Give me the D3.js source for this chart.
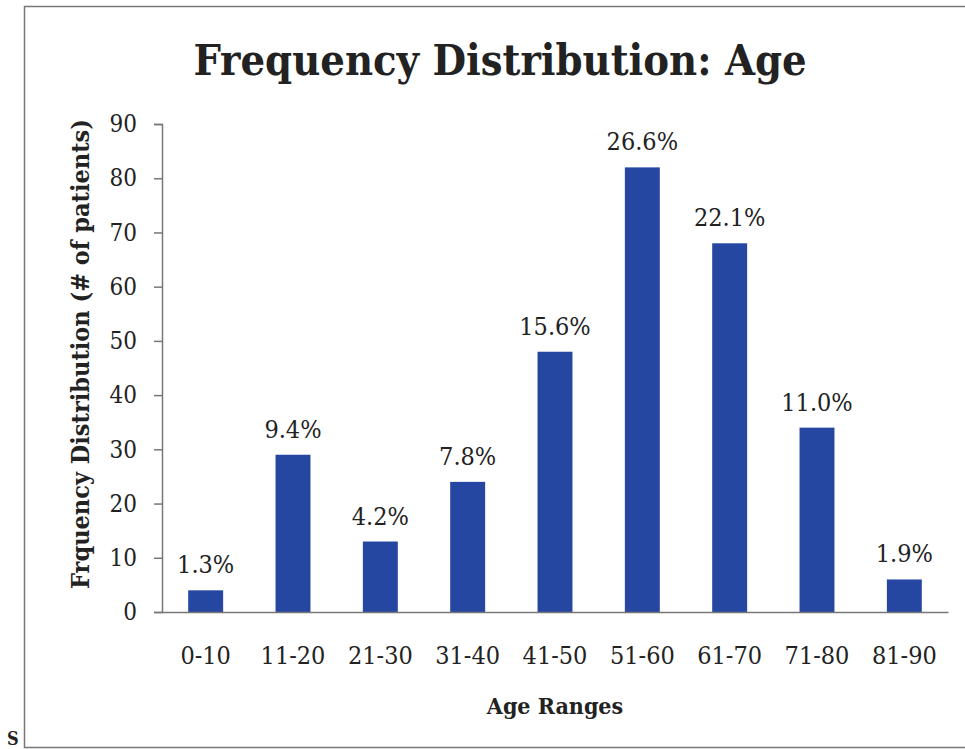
<!DOCTYPE html>
<html>
<head>
<meta charset="utf-8">
<script src="https://cdn.jsdelivr.net/npm/d3@7"></script>
<style>
  html, body { margin: 0; padding: 0; background: #fff; }
  svg { display: block; }
  text { font-family: "DejaVu Serif Condensed", "DejaVu Serif", serif; fill: #222; }
</style>
</head>
<body>
<svg id="chart" width="965" height="749"></svg>
<script>
const categories = ["0-10", "11-20", "21-30", "31-40", "41-50", "51-60", "61-70", "71-80", "81-90"];
const patients = [4, 29, 13, 24, 48, 82, 68, 34, 6];
const percentLabels = ["1.3%", "9.4%", "4.2%", "7.8%", "15.6%", "26.6%", "22.1%", "11.0%", "1.9%"];
const yTicks = [0, 10, 20, 30, 40, 50, 60, 70, 80, 90];
const titleText = "Frequency Distribution: Age";
const yLabel = "Frquency Distribution (# of patients)";
const xLabel = "Age Ranges";

const svg = d3.select("#chart");
const W = 965, H = 749;
const margin = { left: 162, right: 17, top: 124, bottom: 137 };
const plotW = W - margin.left - margin.right;
const plotH = H - margin.top - margin.bottom;
const fontStack = "\"DejaVu Serif Condensed\", \"DejaVu Serif\", serif";

// outer frame
svg.append("rect")
  .attr("x", 24.5).attr("y", 6.5)
  .attr("width", 960).attr("height", 741)
  .attr("fill", "none").attr("stroke", "#777").attr("stroke-width", 1.5);

svg.append("text")
  .attr("x", 7).attr("y", 745)
  .attr("font-size", 18).attr("font-weight", "bold")
  .text("S");

const g = svg.append("g").attr("transform", `translate(${margin.left},${margin.top})`);

const x = d3.scaleBand().domain(categories).range([0, plotW]).paddingInner(0.6).paddingOuter(0.3);
const y = d3.scaleLinear().domain([0, 90]).range([plotH, 0]);

// bars
g.selectAll("rect.bar").data(patients).join("rect")
  .attr("class", "bar")
  .attr("x", (d, i) => x(categories[i]))
  .attr("y", d => y(d))
  .attr("width", x.bandwidth())
  .attr("height", d => plotH - y(d))
  .attr("fill", "#2647A1");

// percent labels
g.selectAll("text.pct").data(patients).join("text")
  .attr("class", "pct")
  .attr("x", (d, i) => x(categories[i]) + x.bandwidth() / 2)
  .attr("y", d => y(d) - 17)
  .attr("text-anchor", "middle")
  .attr("font-size", 25)
  .text((d, i) => percentLabels[i]);

// y axis
const yAxis = g.append("g").call(d3.axisLeft(y).tickValues(yTicks).tickSize(8).tickPadding(17).tickFormat(d3.format("d")));
yAxis.select(".domain").attr("stroke", "#777").attr("stroke-width", 1.5);
yAxis.selectAll(".tick line").attr("stroke", "#777").attr("stroke-width", 1.5);
yAxis.selectAll(".tick text").attr("font-size", 24).attr("fill", "#222").attr("font-family", fontStack);

// x axis
const xAxis = g.append("g").attr("transform", `translate(0,${plotH})`)
  .call(d3.axisBottom(x).tickSize(0).tickPadding(34));
xAxis.select(".domain").attr("stroke", "#777").attr("stroke-width", 1.5);
xAxis.selectAll(".tick text").attr("font-size", 25).attr("fill", "#222").attr("font-family", fontStack);

// title
svg.append("text")
  .attr("x", 500).attr("y", 75)
  .attr("text-anchor", "middle")
  .attr("font-size", 43).attr("font-weight", "bold")
  .text(titleText);

// y label
svg.append("text")
  .attr("transform", `translate(89,${354}) rotate(-90)`)
  .attr("text-anchor", "middle")
  .attr("font-size", 25).attr("font-weight", "bold")
  .text(yLabel);

// x label
svg.append("text")
  .attr("x", margin.left + plotW / 2).attr("y", 714)
  .attr("text-anchor", "middle")
  .attr("font-size", 23).attr("font-weight", "bold")
  .text(xLabel);
</script>
</body>
</html>
